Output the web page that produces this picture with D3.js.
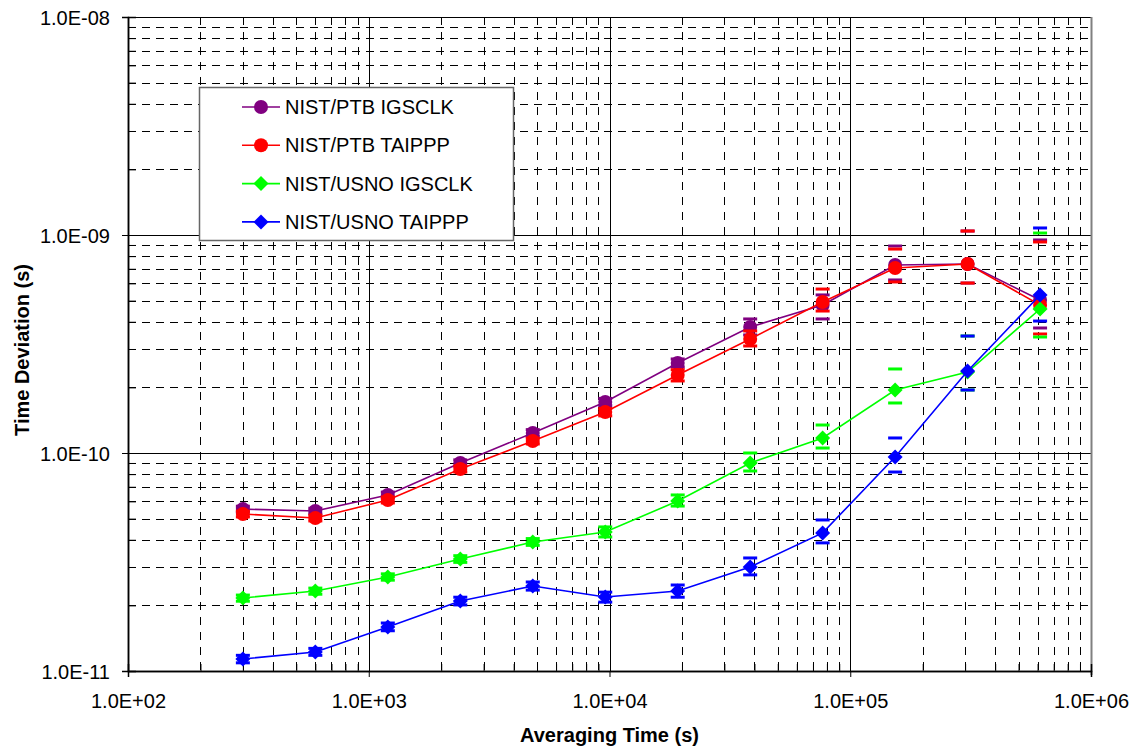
<!DOCTYPE html>
<html>
<head>
<meta charset="utf-8">
<script src="https://cdn.jsdelivr.net/npm/d3@7"></script>
<style>
  body { margin: 0; background: #fff; }
  svg { display: block; font-family: "Liberation Sans", Arial, sans-serif; }
</style>
</head>
<body>
<svg id="chart" width="1133" height="750"></svg>
<script>
// averaging times (s)
var taus = [300, 600, 1200, 2400, 4800, 9600, 19200, 38400, 76800, 153600, 307200, 614400];

// NIST/PTB IGSCLK
var ptbIgs    = [5.53e-11, 5.42e-11, 6.42e-11, 9.0e-11, 1.235e-10, 1.713e-10, 2.587e-10, 3.784e-10, 4.775e-10, 7.28e-10, 7.36e-10, 5.03e-10];
var ptbIgsHi  = [5.7e-11, 5.58e-11, 6.62e-11, 9.3e-11, 1.28e-10, 1.78e-10, 2.7e-10, 4.12e-10, 5.31e-10, 8.9e-10, 1.043e-9, 9.49e-10];
var ptbIgsLo  = [5.36e-11, 5.26e-11, 6.22e-11, 8.7e-11, 1.19e-10, 1.65e-10, 2.48e-10, 3.48e-10, 4.12e-10, 6.22e-10, 6.02e-10, 3.745e-10];

// NIST/PTB TAIPPP
var ptbTai    = [5.25e-11, 5.03e-11, 6.09e-11, 8.45e-11, 1.135e-10, 1.542e-10, 2.28e-10, 3.334e-10, 4.93e-10, 7.06e-10, 7.36e-10, 4.775e-10];
var ptbTaiHi  = [5.41e-11, 5.18e-11, 6.28e-11, 8.72e-11, 1.17e-10, 1.6e-10, 2.41e-10, 3.63e-10, 5.65e-10, 8.62e-10, 1.043e-9, 9.29e-10];
var ptbTaiLo  = [5.09e-11, 4.88e-11, 5.9e-11, 8.18e-11, 1.1e-10, 1.48e-10, 2.14e-10, 3.097e-10, 4.48e-10, 6.09e-10, 6.02e-10, 3.515e-10];

// NIST/USNO IGSCLK
var usnoIgs   = [2.162e-11, 2.328e-11, 2.698e-11, 3.264e-11, 3.906e-11, 4.34e-11, 6.02e-11, 9.0e-11, 1.172e-10, 1.945e-10, 2.353e-10, 4.577e-10];
var usnoIgsHi = [2.23e-11, 2.4e-11, 2.79e-11, 3.38e-11, 4.05e-11, 4.58e-11, 6.42e-11, 1.0e-10, 1.344e-10, 2.429e-10, 3.441e-10, 1.021e-9];
var usnoIgsLo = [2.09e-11, 2.25e-11, 2.61e-11, 3.15e-11, 3.77e-11, 4.12e-11, 5.71e-11, 8.27e-11, 1.054e-10, 1.696e-10, 1.945e-10, 3.405e-10];

// NIST/USNO TAIPPP
var usnoTai   = [1.135e-11, 1.223e-11, 1.592e-11, 2.094e-11, 2.454e-11, 2.184e-11, 2.328e-11, 3.0e-11, 4.3e-11, 9.59e-11, 2.377e-10, 5.306e-10];
var usnoTaiHi = [1.18e-11, 1.27e-11, 1.66e-11, 2.18e-11, 2.56e-11, 2.3e-11, 2.48e-11, 3.3e-11, 4.93e-11, 1.172e-10, 3.44e-10, 1.077e-9];
var usnoTaiLo = [1.09e-11, 1.18e-11, 1.53e-11, 2.01e-11, 2.35e-11, 2.07e-11, 2.18e-11, 2.76e-11, 3.87e-11, 8.18e-11, 1.945e-10, 4.03e-10];

var seriesNames = ["NIST/PTB IGSCLK", "NIST/PTB TAIPPP", "NIST/USNO IGSCLK", "NIST/USNO TAIPPP"];
var seriesColors = ["#800080", "#ff0000", "#00ff00", "#0000ff"];
var seriesShapes = ["circle", "circle", "diamond", "diamond"];

var series = [
  {vals: ptbIgs, hi: ptbIgsHi, lo: ptbIgsLo},
  {vals: ptbTai, hi: ptbTaiHi, lo: ptbTaiLo},
  {vals: usnoIgs, hi: usnoIgsHi, lo: usnoIgsLo},
  {vals: usnoTai, hi: usnoTaiHi, lo: usnoTaiLo}
];

var plotL = 128, plotR = 1091, plotT = 17, plotB = 671;

var svg = d3.select("#chart");

var x = d3.scaleLog().domain([1e2, 1e6]).range([plotL, plotR]);
var y = d3.scaleLog().domain([1e-11, 1e-8]).range([plotB, plotT]);

function isMajor(d) {
  var l = Math.log10(d);
  return Math.abs(l - Math.round(l)) < 1e-6;
}
function sci(d) {
  var e = Math.round(Math.log10(d));
  return "1.0E" + (e < 0 ? "-" : "+") + String(Math.abs(e)).padStart(2, "0");
}

var xTicks = x.ticks();
var yTicks = y.ticks();
var xMajor = xTicks.filter(isMajor), xMinor = xTicks.filter(function(d){ return !isMajor(d); });
var yMajor = yTicks.filter(isMajor), yMinor = yTicks.filter(function(d){ return !isMajor(d); });

// grid
var grid = svg.append("g");
grid.selectAll("line.vminor").data(xMinor).enter().append("line")
  .attr("x1", function(d){ return Math.round(x(d)) + 0.5; })
  .attr("x2", function(d){ return Math.round(x(d)) + 0.5; })
  .attr("y1", plotT).attr("y2", plotB)
  .attr("stroke", "#000").attr("stroke-dasharray", "8,7");
grid.selectAll("line.hminor").data(yMinor).enter().append("line")
  .attr("y1", function(d){ return Math.round(y(d)) + 0.5; })
  .attr("y2", function(d){ return Math.round(y(d)) + 0.5; })
  .attr("x1", plotL).attr("x2", plotR)
  .attr("stroke", "#000").attr("stroke-dasharray", "8,6");
grid.selectAll("line.vmajor").data(xMajor.slice(1, -1)).enter().append("line")
  .attr("x1", function(d){ return Math.round(x(d)) + 0.5; })
  .attr("x2", function(d){ return Math.round(x(d)) + 0.5; })
  .attr("y1", plotT).attr("y2", plotB)
  .attr("stroke", "#000");
grid.selectAll("line.hmajor").data(yMajor.slice(1)).enter().append("line")
  .attr("y1", function(d){ return Math.round(y(d)) + 0.5; })
  .attr("y2", function(d){ return Math.round(y(d)) + 0.5; })
  .attr("x1", plotL).attr("x2", plotR)
  .attr("stroke", "#000");
// right border
svg.append("line")
  .attr("x1", plotR + 0.5).attr("x2", plotR + 0.5)
  .attr("y1", plotT).attr("y2", plotB + 4)
  .attr("stroke", "#808080").attr("stroke-width", 2);

// axes
var xAxisMinor = d3.axisBottom(x).tickValues(xMinor).tickSize(-7).tickFormat("");
var xAxisMajor = d3.axisBottom(x).tickValues(xMajor).tickSize(6).tickFormat(sci);
var yAxisMinor = d3.axisLeft(y).tickValues(yMinor).tickSize(-8).tickFormat("");
var yAxisMajor = d3.axisLeft(y).tickValues(yMajor).tickSize(6).tickFormat(sci);

var gx = svg.append("g").attr("transform", "translate(0," + plotB + ")");
gx.append("g").call(xAxisMinor);
gx.append("g").call(xAxisMajor);
gx.selectAll(".domain").attr("stroke", "#000").attr("stroke-width", 1.5);
gx.selectAll("text").attr("y", 37).attr("dy", null)
  .attr("font-size", 20).attr("font-family", "Liberation Sans, Arial, sans-serif").attr("fill", "#000");

var gy = svg.append("g").attr("transform", "translate(" + plotL + ",0)");
gy.append("g").call(yAxisMinor);
gy.append("g").call(yAxisMajor);
gy.selectAll(".domain").attr("stroke", "#000").attr("stroke-width", 1.5);
gy.selectAll("text").attr("x", -18).attr("dy", "0.35em")
  .attr("font-size", 20).attr("font-family", "Liberation Sans, Arial, sans-serif").attr("fill", "#000");

// axis titles
svg.append("text")
  .attr("x", (plotL + plotR) / 2).attr("y", 742)
  .attr("text-anchor", "middle").attr("font-weight", "bold").attr("font-size", 20)
  .text("Averaging Time (s)");
svg.append("text")
  .attr("transform", "translate(29,350) rotate(-90)")
  .attr("text-anchor", "middle").attr("font-weight", "bold").attr("font-size", 20)
  .text("Time Deviation (s)");

var line = d3.line()
  .x(function(d){ return x(d.t); })
  .y(function(d){ return y(d.v); });

function drawMarker(g, shape, color, cx, cy) {
  if (shape === "circle") {
    g.append("circle").attr("cx", cx).attr("cy", cy).attr("r", 7).attr("fill", color);
  } else {
    var r = 7.5;
    g.append("path")
      .attr("d", "M" + cx + "," + (cy - r) + "L" + (cx + r) + "," + cy + "L" + cx + "," + (cy + r) + "L" + (cx - r) + "," + cy + "Z")
      .attr("fill", color);
  }
}

// series
series.forEach(function(s, i) {
  var color = seriesColors[i];
  var pts = taus.map(function(t, j){ return {t: t, v: s.vals[j], hi: s.hi[j], lo: s.lo[j]}; });
  var g = svg.append("g");
  g.append("path").datum(pts).attr("d", line)
    .attr("fill", "none").attr("stroke", color).attr("stroke-width", 1.6);
  // error bar caps
  pts.forEach(function(p) {
    [p.hi, p.lo].forEach(function(e) {
      g.append("line")
        .attr("x1", x(p.t) - 7).attr("x2", x(p.t) + 7)
        .attr("y1", y(e)).attr("y2", y(e))
        .attr("stroke", color).attr("stroke-width", 3);
    });
  });
  pts.forEach(function(p) {
    drawMarker(g, seriesShapes[i], color, x(p.t), y(p.v));
  });
});

// legend
var lg = svg.append("g");
lg.append("rect")
  .attr("x", 199.5).attr("y", 87.5).attr("width", 314).attr("height", 153)
  .attr("fill", "#fff").attr("stroke", "#666").attr("stroke-width", 1.5);
seriesNames.forEach(function(name, i) {
  var ly = 107 + i * 38.3;
  lg.append("line").attr("x1", 242).attr("x2", 280).attr("y1", ly).attr("y2", ly)
    .attr("stroke", seriesColors[i]).attr("stroke-width", 1.6);
  drawMarker(lg, seriesShapes[i], seriesColors[i], 261, ly);
  lg.append("text").attr("x", 285).attr("y", ly).attr("dy", "0.35em")
    .attr("font-size", 20).attr("fill", "#000").text(name);
});
</script>
</body>
</html>
